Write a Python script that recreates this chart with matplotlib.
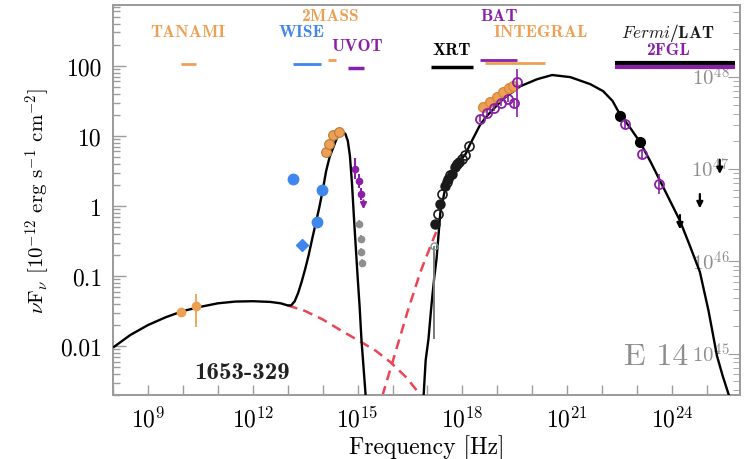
import numpy as np
import matplotlib
matplotlib.use('Agg')
import matplotlib.pyplot as plt
import matplotlib.transforms as mtransforms
from matplotlib.ticker import FixedLocator, LogLocator, NullFormatter

plt.rcParams['mathtext.fontset'] = 'cm'
plt.rcParams['font.family'] = 'cmr10'
plt.rcParams['axes.formatter.use_mathtext'] = True

# ---------------------------------------------------------------------------
# SED data, all as log10(nu / Hz) and log10(nuFnu / 1e-12 erg s^-1 cm^-2)

# total model: synchrotron + disk
model_lo_nu = [8.03, 8.5, 9.0, 9.5, 10.0, 10.5, 11.0, 11.5, 12.0, 12.5, 12.8, 13.0,
               13.1, 13.2, 13.3, 13.4, 13.5, 13.6, 13.7, 13.8, 13.9, 14.0, 14.1,
               14.2, 14.3, 14.4, 14.5, 14.57, 14.65, 14.72, 14.78, 14.84, 14.9,
               14.95, 15.0, 15.06, 15.11, 15.17, 15.23]
model_lo_f = [-2.01, -1.84, -1.70, -1.59, -1.50, -1.44, -1.39, -1.365, -1.36, -1.37,
              -1.39, -1.42, -1.42, -1.36, -1.24, -1.08, -0.90, -0.70, -0.47, -0.25,
              -0.03, 0.22, 0.50, 0.70, 0.83, 0.96, 1.04, 1.06, 1.03, 0.93, 0.72,
              0.32, -0.20, -0.60, -1.00, -1.45, -1.90, -2.30, -2.70]

# total model: high-energy hump
model_hi_nu = [16.89, 16.95, 17.03, 17.10, 17.14, 17.20, 17.26, 17.32, 17.37, 17.51,
               17.71, 17.89, 18.09, 18.20, 18.51, 18.71, 19.17, 19.66, 20.14, 20.57,
               21.09, 21.66, 22.03, 22.30, 22.51, 22.80, 23.09, 23.40, 23.63, 23.90,
               24.23, 24.50, 24.80, 25.05, 25.29, 25.45, 25.63]
model_hi_f = [-2.71, -2.20, -1.90, -1.50, -1.29, -1.00, -0.76, -0.40, -0.09, 0.25,
              0.46, 0.62, 0.74, 0.86, 1.16, 1.29, 1.53, 1.71, 1.81, 1.87,
              1.84, 1.74, 1.64, 1.50, 1.31, 1.12, 0.91, 0.62, 0.39, 0.12,
              -0.21, -0.55, -0.94, -1.50, -2.14, -2.42, -2.70]

# dashed components
sync_nu = [13.0, 13.5, 14.0, 14.5, 15.09, 15.5, 15.94, 16.4, 16.8]
sync_f = [-1.42, -1.50, -1.62, -1.77, -1.94, -2.06, -2.23, -2.45, -2.70]
ic_rise_nu = [15.71, 16.00, 16.43, 16.80, 17.17, 17.31]
ic_rise_f = [-2.71, -2.23, -1.51, -0.94, -0.47, -0.30]

# TANAMI
tanami_nu = [9.94, 10.37]
tanami_f = [-1.51, -1.43]
tanami_lo = [-1.55, -1.73]
tanami_hi = [-1.47, -1.26]

# WISE
wise_nu = [13.14, 13.97, 13.83]
wise_f = [0.39, 0.23, -0.23]
wise_diam_nu = [13.40]
wise_diam_f = [-0.56]

# 2MASS
tmass_nu = [14.09, 14.17, 14.31, 14.46]
tmass_f = [0.77, 0.89, 1.01, 1.06]

# UVOT
uvot_nu = [14.94, 15.03, 15.11]
uvot_f = [0.53, 0.36, 0.17]
uvot_lo = [0.38, 0.26, 0.08]
uvot_hi = [0.68, 0.46, 0.26]
uvot_ul_nu = [15.17]
uvot_ul_f = [0.12]

# older optical/UV (grey)
grey_nu = [15.03, 15.09, 15.11, 15.14]
grey_f = [-0.26, -0.47, -0.66, -0.81]

# XRT
xrt_fill_nu = [17.23, 17.37, 17.51, 17.60, 17.71, 17.80, 17.89]
xrt_fill_f = [-0.26, 0.03, 0.29, 0.39, 0.46, 0.56, 0.63]
xrt_open_nu = [17.29, 17.43, 17.55, 17.66, 17.84, 18.00, 18.09, 18.20]
xrt_open_f = [-0.11, 0.17, 0.34, 0.44, 0.60, 0.67, 0.73, 0.86]
xrt_grey_nu = [17.20]
xrt_grey_f = [-0.57]
xrt_grey_lo = [-1.90]

# INTEGRAL
integral_nu = [18.60, 18.80, 19.00, 19.17, 19.34, 19.46]
integral_f = [1.41, 1.49, 1.56, 1.63, 1.69, 1.71]

# BAT
bat_nu = [18.51, 18.71, 18.91, 19.11, 19.31, 19.49, 19.57]
bat_f = [1.24, 1.33, 1.40, 1.47, 1.53, 1.47, 1.77]
bat_lo = [1.20, 1.29, 1.36, 1.43, 1.49, 1.40, 1.27]
bat_hi = [1.28, 1.37, 1.44, 1.51, 1.57, 1.54, 1.96]

# Fermi/LAT
lat_nu = [22.51, 23.09]
lat_f = [1.29, 0.91]
fgl_nu = [22.66, 23.14, 23.63]
fgl_f = [1.17, 0.74, 0.31]
fgl_lo = [1.12, 0.69, 0.17]
fgl_hi = [1.22, 0.79, 0.45]
lat_ul_nu = [24.23, 24.80, 25.37]
lat_ul_f = [-0.09, 0.21, 0.70]

# instrument bands along the top: (nu_lo, nu_hi)
bands = {
    'TANAMI':   (9.94, 10.37),
    'WISE':     (13.14, 13.94),
    '2MASS':    (14.14, 14.37),
    'UVOT':     (14.74, 15.17),
    'XRT':      (17.09, 18.31),
    'BAT':      (18.51, 19.57),
    'INTEGRAL': (18.66, 20.37),
    'LAT':      (22.37, 25.80),
    '2FGL':     (22.37, 25.80),
}

# luminosity axis
lum_ticks = [45, 46, 47, 48]


def p(a):
    return 10.0 ** np.asarray(a, dtype=float)


orange = '#eda054'
blue = '#3f86ee'
purple = '#8a1fa8'
red = '#ec4455'
grey = '#8e8e8e'
spine_c = '#9c9c9c'

fig = plt.figure(figsize=(7.49, 4.6), dpi=100)
ax = fig.add_axes([0.151, 0.139, 0.837, 0.848])
ax.set_xscale('log')
ax.set_yscale('log')

# luminosity axis on the right, labels drawn inside the frame; kept underneath
ax2 = ax.twinx()
ax2.set_yscale('log')
ax2.set_ylim(p(44.55), p(48.78))
ax2.yaxis.set_major_locator(FixedLocator(p(lum_ticks)))
ax2.yaxis.set_minor_locator(LogLocator(base=10, subs=np.arange(2, 10), numticks=20))
ax2.yaxis.set_major_formatter(NullFormatter())
ax2.yaxis.set_minor_formatter(NullFormatter())
ax2.tick_params(which='both', direction='in', color=spine_c, labelright=False)
ax2.tick_params(which='major', length=9)
ax2.tick_params(which='minor', length=5)
for s in ax2.spines.values():
    s.set_color(spine_c)
    s.set_linewidth(1.3)
rt = mtransforms.blended_transform_factory(ax2.transAxes, ax2.transData)
for e in lum_ticks:
    ax2.text(0.983, p(e), r'$10^{%d}$' % e, transform=rt, ha='right', va='center',
             fontsize=15, color=grey)
ax.set_zorder(ax2.get_zorder() + 1)
ax.patch.set_visible(False)

# model curves
ax.plot(p(sync_nu), p(sync_f), color=red, ls=(0, (4, 2.5)), lw=1.8, zorder=2)
ax.plot(p(ic_rise_nu), p(ic_rise_f), color=red, ls=(0, (4, 2.5)), lw=1.8, zorder=2)
ax.plot(p(model_lo_nu), p(model_lo_f), color='k', lw=1.7, zorder=3)
ax.plot(p(model_hi_nu), p(model_hi_f), color='k', lw=1.7, zorder=3)


def errs(f, lo, hi):
    f, lo, hi = p(f), p(lo), p(hi)
    return [f - lo, hi - f]


# radio
ax.errorbar(p(tanami_nu), p(tanami_f), yerr=errs(tanami_f, tanami_lo, tanami_hi),
            fmt='o', ms=6, color=orange, mec=orange, lw=1.3, zorder=4)

# IR / optical / UV
ax.plot(p(wise_nu), p(wise_f), 'o', ms=7.5, color=blue, zorder=4)
ax.plot(p(wise_diam_nu), p(wise_diam_f), 'D', ms=6, color=blue, zorder=4)
ax.plot(p(tmass_nu), p(tmass_f), 'o', ms=7, color=orange, mec='#b87a3c', mew=0.8, zorder=4)
ax.errorbar(p(grey_nu), p(grey_f), yerr=[p(grey_f) * 0.12, p(grey_f) * 0.14],
            fmt='o', ms=4.5, color=grey, lw=1.2, zorder=4)
ax.errorbar(p(uvot_nu), p(uvot_f), yerr=errs(uvot_f, uvot_lo, uvot_hi),
            fmt='o', ms=4.5, color=purple, lw=1.5, zorder=5)
for x, y in zip(uvot_ul_nu, uvot_ul_f):
    ax.annotate('', xy=(p(x), p(y) * 0.62), xytext=(p(x), p(y)),
                arrowprops=dict(arrowstyle='-|>', color=purple, lw=1.5,
                                mutation_scale=9), zorder=5)

# X-ray
ax.errorbar(p(xrt_grey_nu), p(xrt_grey_f),
            yerr=[p(xrt_grey_f) - p(xrt_grey_lo), [0]],
            fmt='o', ms=5, mfc='none', mec='#7a9a90', color='#7a7a7a', lw=1.4, zorder=4)
ax.plot(p(xrt_fill_nu), p(xrt_fill_f), 'o', ms=6.5, color='#1a1a1a', zorder=4)
ax.plot(p(xrt_open_nu), p(xrt_open_f), 'o', ms=6.5, mfc='none', mec='#1a1a1a',
        mew=1.2, zorder=4)
ax.plot(p(integral_nu), p(integral_f), 'o', ms=7, color=orange, mec='#d88a3c', zorder=4)
ax.errorbar(p(bat_nu), p(bat_f), yerr=errs(bat_f, bat_lo, bat_hi),
            fmt='o', ms=6.5, mfc='none', mec=purple, mew=1.3, color=purple,
            lw=1.2, zorder=5)

# gamma-ray
ax.plot(p(lat_nu), p(lat_f), 'o', ms=7, color='k', zorder=4)
ax.errorbar(p(fgl_nu), p(fgl_f), yerr=errs(fgl_f, fgl_lo, fgl_hi),
            fmt='o', ms=6.5, mfc='none', mec=purple, mew=1.3, color=purple,
            lw=1.2, zorder=5)
for x, y in zip(lat_ul_nu, lat_ul_f):
    ax.annotate('', xy=(p(x), p(y) * 0.52), xytext=(p(x), p(y)),
                arrowprops=dict(arrowstyle='-|>', color='k', lw=1.6,
                                mutation_scale=9), zorder=5)

# instrument bands and names
top = mtransforms.blended_transform_factory(ax.transData, ax.transAxes)
band_style = {
    'TANAMI':   (orange, 0.849, 2.0),
    'WISE':     (blue, 0.849, 2.0),
    '2MASS':    (orange, 0.859, 2.0),
    'UVOT':     (purple, 0.838, 2.5),
    'XRT':      ('k', 0.842, 2.5),
    'BAT':      (purple, 0.859, 2.0),
    'INTEGRAL': (orange, 0.852, 2.0),
    'LAT':      ('k', 0.850, 3.0),
    '2FGL':     (purple, 0.840, 3.0),
}
for name, (lo, hi) in bands.items():
    c, yb, lw = band_style[name]
    ax.plot([p(lo), p(hi)], [yb, yb], color=c, lw=lw, transform=top,
            solid_capstyle='butt', zorder=3)

label_pos = {
    'TANAMI':   (10.15, 0.931, orange),
    'WISE':     (13.40, 0.931, blue),
    '2MASS':    (14.20, 0.972, orange),
    'UVOT':     (15.00, 0.895, purple),
    'XRT':      (17.70, 0.887, 'k'),
    'BAT':      (19.05, 0.972, purple),
    'INTEGRAL': (20.25, 0.931, orange),
    '2FGL':     (23.90, 0.887, purple),
}
for name, (x, y, c) in label_pos.items():
    ax.text(p(x), y, name, transform=top, color=c, fontsize=12.5,
            family='cmb10', ha='center', va='center')
ax.text(p(23.90), 0.931, r'$\mathit{Fermi}$/LAT', transform=top, color='#1a1a1a',
        fontsize=12.5, family='cmb10', ha='center', va='center')

ax.text(0.206, 0.058, '1653-329', transform=ax.transAxes, fontsize=18,
        family='cmb10', color='#222222', ha='center', va='center')
ax.text(0.866, 0.10, 'E 14', transform=ax.transAxes, fontsize=23,
        color=grey, ha='center', va='center')

# axes
ax.set_xlim(p(8.0), p(25.95))
ax.set_ylim(p(-2.7), p(2.87))
ax.xaxis.set_major_locator(FixedLocator(p([9, 12, 15, 18, 21, 24])))
ax.set_xticklabels([r'$10^{%d}$' % e for e in [9, 12, 15, 18, 21, 24]])
ax.xaxis.set_minor_locator(FixedLocator(p(np.arange(8, 26))))
ax.xaxis.set_minor_formatter(NullFormatter())
ax.yaxis.set_major_locator(FixedLocator([0.01, 0.1, 1, 10, 100]))
ax.set_yticklabels(['0.01', '0.1', '1', '10', '100'])
ax.yaxis.set_minor_locator(LogLocator(base=10, subs=np.arange(2, 10), numticks=20))
ax.yaxis.set_minor_formatter(NullFormatter())
ax.tick_params(which='both', direction='in', color=spine_c, top=False, right=False,
               labelsize=17, width=1.0)
ax.tick_params(axis='x', which='both', length=7, pad=8)
ax.tick_params(axis='y', which='major', length=9, pad=8)
ax.tick_params(axis='y', which='minor', length=5)
for s in ax.spines.values():
    s.set_color(spine_c)
    s.set_linewidth(1.3)

ax.set_xlabel('Frequency [Hz]', fontsize=17, labelpad=2)
ax.set_ylabel(r'$\nu$F$_\nu$ [$10^{-12}$ erg s$^{-1}$ cm$^{-2}$]', fontsize=15,
              labelpad=6)

fig.savefig('out.png', dpi=100)
